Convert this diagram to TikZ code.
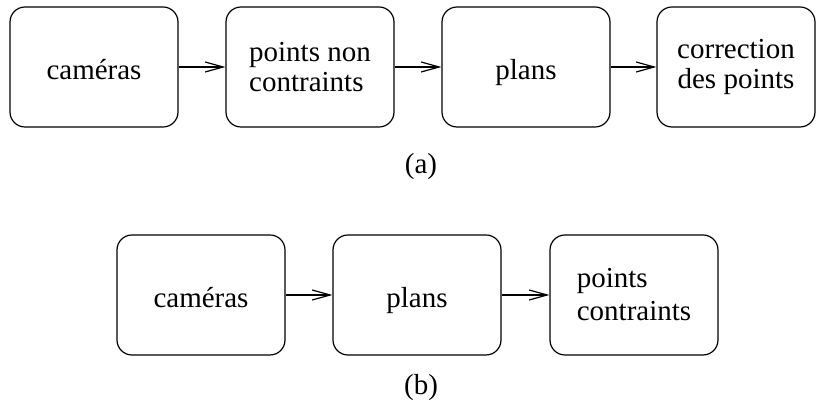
\documentclass[tikz,border=0pt]{standalone}
\usepackage{fontspec}
\setmainfont{Liberation Serif}
\usetikzlibrary{arrows.meta}
\newcommand{\drawfleche}{\draw[fleche]}
\tikzset{
  boite/.style={draw, line width=0.6pt, rounded corners=7.5pt, minimum width=84pt,
    minimum height=60pt, inner sep=0pt, font=\fontsize{14.5}{15}\selectfont},
  uneligne/.style={text height=12.5pt, text depth=0pt},
  fleche/.style={line width=0.6pt, -{Straight Barb[length=9pt,width=5pt]}},
  legende/.style={font=\fontsize{14.5}{15}\selectfont}
}

\begin{document}
\begin{tikzpicture}[x=0.5pt,y=-0.5pt]
\useasboundingbox (0,0) rectangle (816,410);
% (a)
\node[boite,uneligne] (cama) at (94,67) {caméras};
\node[boite,align=left] (pnca) at (310,67) {points non\\contraints};
\node[boite,uneligne] (plana) at (526,67) {plans};
\node[boite,align=center,minimum width=79pt] (corra) at (736,67) {correction\\des points};
\drawfleche (cama) -- (pnca);\drawfleche (pnca) -- (plana);\drawfleche (plana) -- (corra);
\node[legende] (suba) at (421,167) {(a)};
% (b)
\node[boite,uneligne] (camb) at (201,295) {caméras};
\node[boite,uneligne] (planb) at (417,295) {plans};
\node[boite,align=left] (pcb) at (634,295) {points\\[1.5pt]contraints};
\drawfleche (camb) -- (planb);\drawfleche (planb) -- (pcb);
\node[legende] (subb) at (421,388) {(b)};
\end{tikzpicture}
\end{document}
